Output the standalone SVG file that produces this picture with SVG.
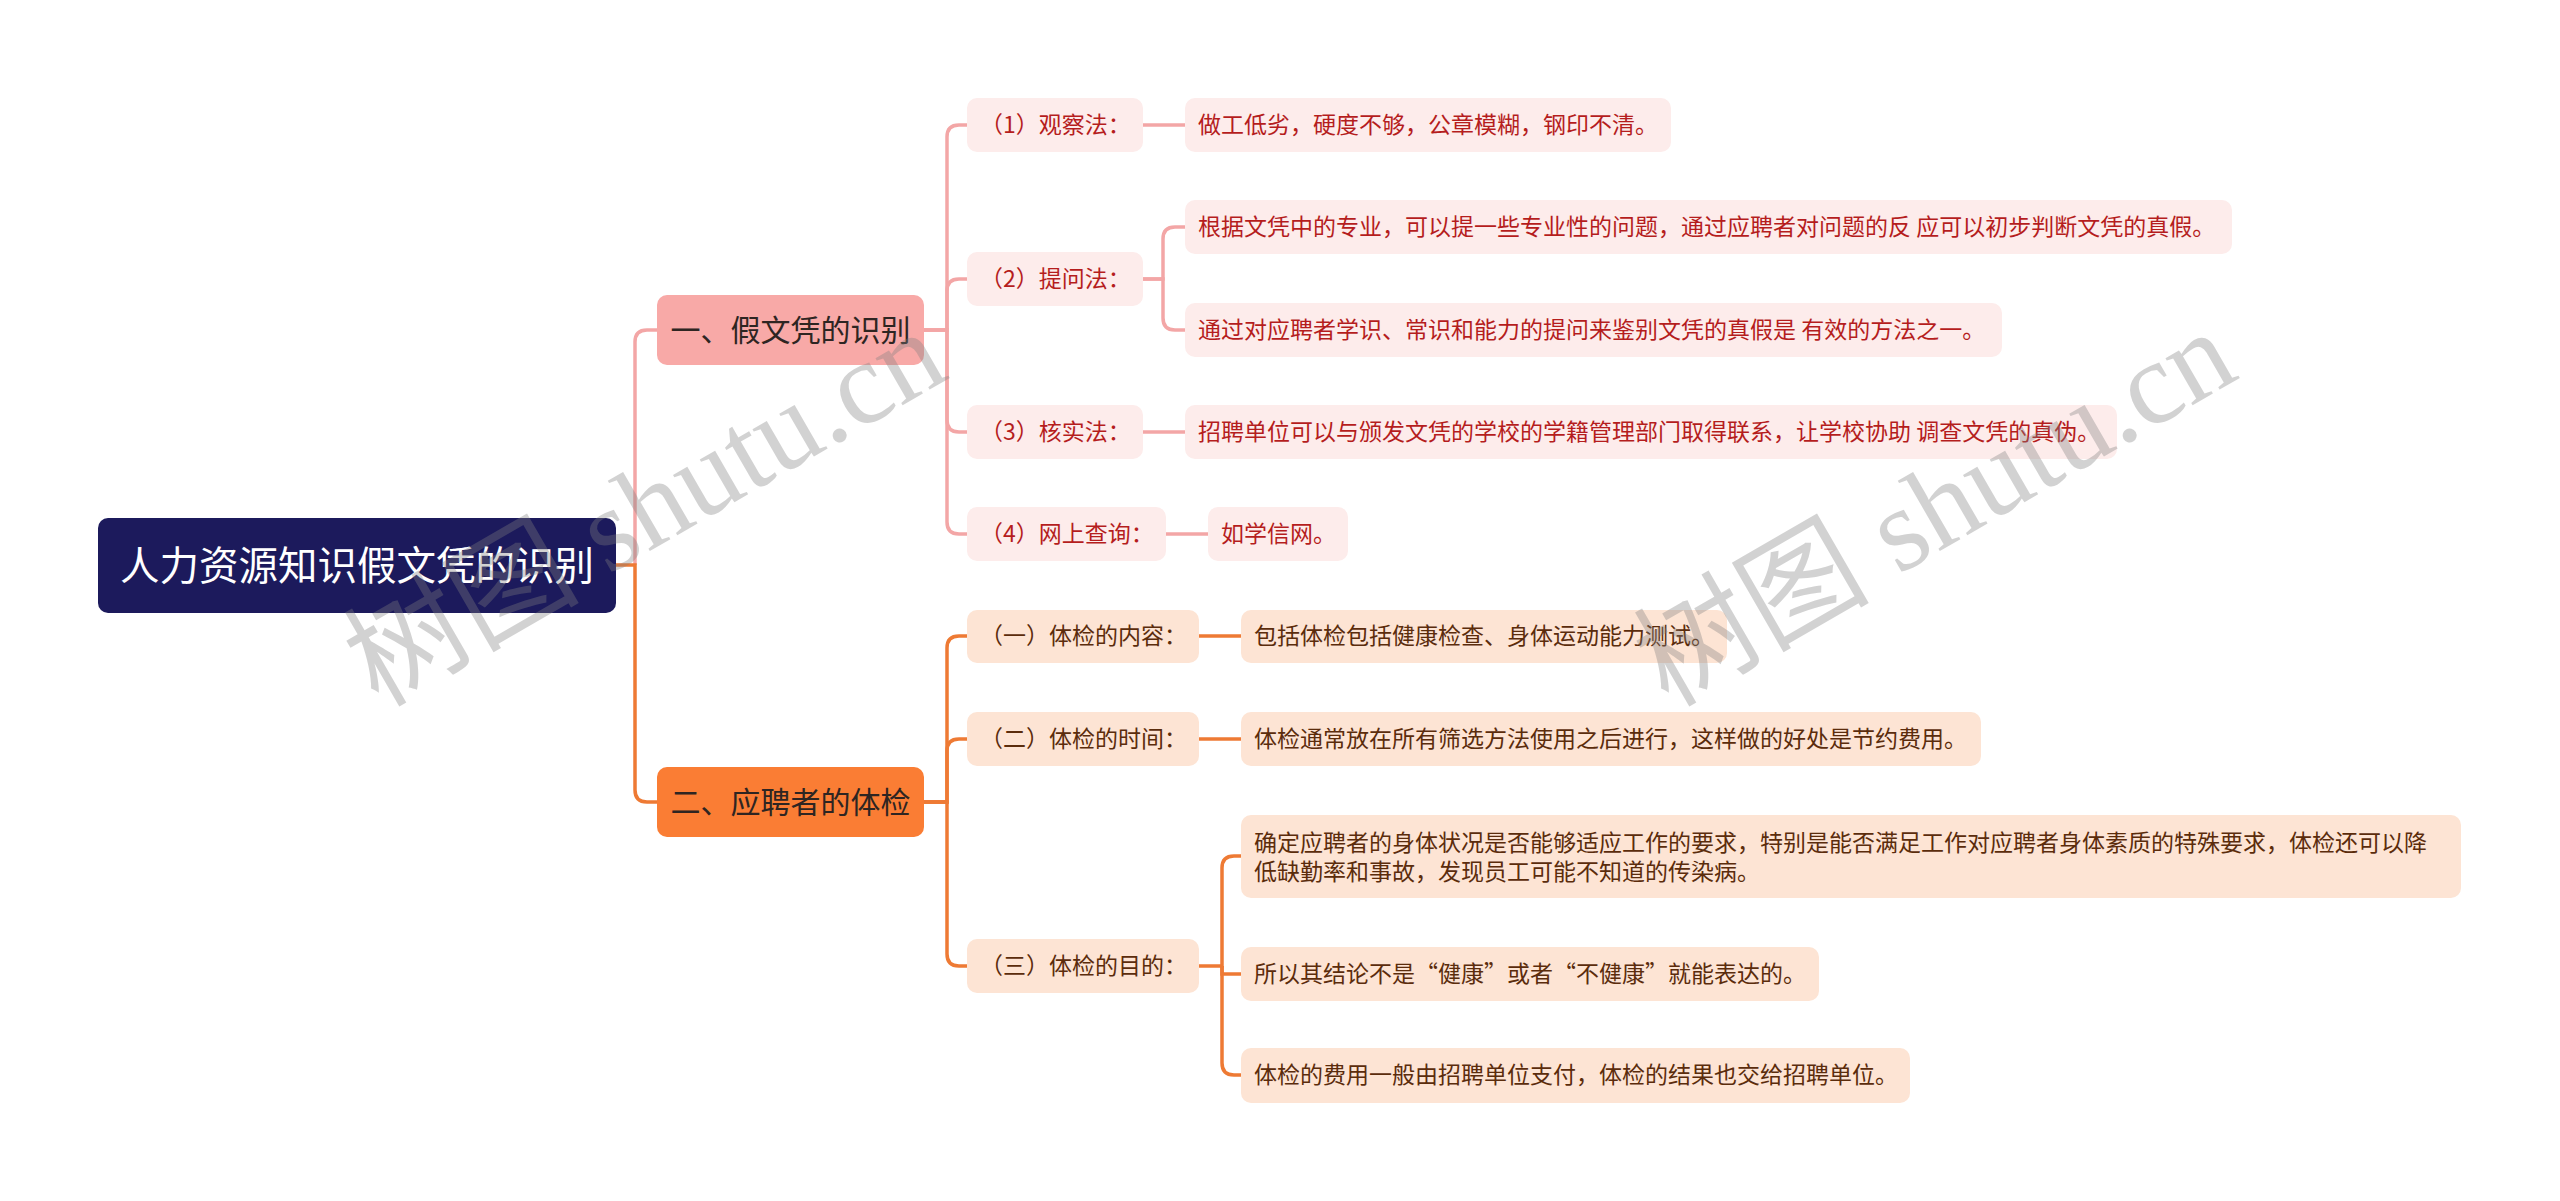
<svg xmlns="http://www.w3.org/2000/svg" width="2560" height="1201" viewBox="0 0 2560 1201">
<style>
text{font-family:"Noto Sans CJK SC","Noto Sans",sans-serif;}
.root{fill:#1c1a5c;}
.rt{fill:#ffffff;font-size:39.5px;}
.b1{fill:#f8a9a7;}
.b2{fill:#fa7d34;}
.bt{fill:#2e2522;font-size:30px;}
.p{fill:#fdeceb;}
.pt{fill:#b51d1d;font-size:23px;}
.o{fill:#fde4d4;}
.ot{fill:#5b2c0c;font-size:23px;}
.lp{fill:none;stroke:#f3a6a6;stroke-width:3.5;}
.lo{fill:none;stroke:#ee7a34;stroke-width:3.5;}
.wm{font-family:"Liberation Serif","Noto Sans CJK SC",serif;font-size:118px;fill:#808080;opacity:0.35;}
</style>
<rect width="2560" height="1201" fill="#ffffff"/>
<g id="connectors">
<path class="lp" d="M635,565 V342 Q635,330 647,330 H657"/>
<path class="lo" d="M616,565 H635 V790 Q635,802 647,802 H657"/>
<path class="lp" d="M924,330 H947 V137 Q947,125 959,125 H967"/>
<path class="lp" d="M924,330 H947 V291 Q947,279 959,279 H967"/>
<path class="lp" d="M924,330 H947 V420 Q947,432 959,432 H967"/>
<path class="lp" d="M924,330 H947 V522 Q947,534 959,534 H967"/>
<path class="lp" d="M1143,125 H1185"/>
<path class="lp" d="M1143,279 H1163 V239 Q1163,227 1175,227 H1185"/>
<path class="lp" d="M1143,279 H1163 V318 Q1163,330 1175,330 H1185"/>
<path class="lp" d="M1143,432 H1185"/>
<path class="lp" d="M1166,534 H1208"/>
<path class="lo" d="M924,802 H947 V648 Q947,636 959,636 H967"/>
<path class="lo" d="M924,802 H947 V751 Q947,739 959,739 H967"/>
<path class="lo" d="M924,802 H947 V954 Q947,966 959,966 H967"/>
<path class="lo" d="M1199,636 H1241"/>
<path class="lo" d="M1199,739 H1241"/>
<path class="lo" d="M1198,966 H1222 V868 Q1222,856 1234,856 H1241"/>
<path class="lo" d="M1222,966 V974 H1241"/>
<path class="lo" d="M1222,966 V1063 Q1222,1075 1234,1075 H1241"/>
</g>
<g id="root"><rect class="root" x="98" y="518" width="518" height="95" rx="10"/><text class="rt" x="357" y="580" text-anchor="middle">人力资源知识假文凭的识别</text></g>
<g id="b1"><rect class="b1" x="657" y="295" width="267" height="70" rx="10"/><text class="bt" x="790.5" y="341" text-anchor="middle">一、假文凭的识别</text></g>
<g id="b2"><rect class="b2" x="657" y="767" width="267" height="70" rx="10"/><text class="bt" x="790.5" y="813" text-anchor="middle">二、应聘者的体检</text></g>
<g id="c1"><rect class="p" x="967" y="98" width="176" height="54" rx="10"/><text class="pt" x="980" y="133">（1）观察法：</text></g>
<g id="c1d"><rect class="p" x="1185" y="98" width="486" height="54" rx="10"/><text class="pt" x="1198" y="133">做工低劣，硬度不够，公章模糊，钢印不清。</text></g>
<g id="c2"><rect class="p" x="967" y="252" width="176" height="54" rx="10"/><text class="pt" x="980" y="287">（2）提问法：</text></g>
<g id="c2d1"><rect class="p" x="1185" y="200" width="1047" height="54" rx="10"/><text class="pt" x="1198" y="235">根据文凭中的专业，可以提一些专业性的问题，通过应聘者对问题的反 应可以初步判断文凭的真假。</text></g>
<g id="c2d2"><rect class="p" x="1185" y="303" width="817" height="54" rx="10"/><text class="pt" x="1198" y="338">通过对应聘者学识、常识和能力的提问来鉴别文凭的真假是 有效的方法之一。</text></g>
<g id="c3"><rect class="p" x="967" y="405" width="176" height="54" rx="10"/><text class="pt" x="980" y="440">（3）核实法：</text></g>
<g id="c3d"><rect class="p" x="1185" y="405" width="932" height="54" rx="10"/><text class="pt" x="1198" y="440">招聘单位可以与颁发文凭的学校的学籍管理部门取得联系，让学校协助 调查文凭的真伪。</text></g>
<g id="c4"><rect class="p" x="967" y="507" width="199" height="54" rx="10"/><text class="pt" x="980" y="542">（4）网上查询：</text></g>
<g id="c4d"><rect class="p" x="1208" y="507" width="140" height="54" rx="10"/><text class="pt" x="1221" y="542">如学信网。</text></g>
<g id="e1"><rect class="o" x="967" y="610" width="232" height="53" rx="10"/><text class="ot" x="980" y="644">（一）体检的内容：</text></g>
<g id="e1d"><rect class="o" x="1241" y="610" width="486" height="53" rx="10"/><text class="ot" x="1254" y="644">包括体检包括健康检查、身体运动能力测试。</text></g>
<g id="e2"><rect class="o" x="967" y="712" width="232" height="54" rx="10"/><text class="ot" x="980" y="747">（二）体检的时间：</text></g>
<g id="e2d"><rect class="o" x="1241" y="712" width="740" height="54" rx="10"/><text class="ot" x="1254" y="747">体检通常放在所有筛选方法使用之后进行，这样做的好处是节约费用。</text></g>
<g id="e3"><rect class="o" x="967" y="939" width="232" height="54" rx="10"/><text class="ot" x="980" y="974">（三）体检的目的：</text></g>
<g id="e3d1"><rect class="o" x="1241" y="815" width="1220" height="83" rx="10"/><text class="ot" x="1254" y="851">确定应聘者的身体状况是否能够适应工作的要求，特别是能否满足工作对应聘者身体素质的特殊要求，体检还可以降</text><text class="ot" x="1254" y="880">低缺勤率和事故，发现员工可能不知道的传染病。</text></g>
<g id="e3d2"><rect class="o" x="1241" y="947" width="578" height="54" rx="10"/><text class="ot" x="1254" y="982">所以其结论不是“健康”或者“不健康”就能表达的。</text></g>
<g id="e3d3"><rect class="o" x="1241" y="1048" width="669" height="55" rx="10"/><text class="ot" x="1254" y="1083">体检的费用一般由招聘单位支付，体检的结果也交给招聘单位。</text></g>
<text class="wm" transform="translate(378,708) rotate(-30)">树图 shutu.cn</text>
<text class="wm" transform="translate(1668,708) rotate(-30)">树图 shutu.cn</text>
</svg>
